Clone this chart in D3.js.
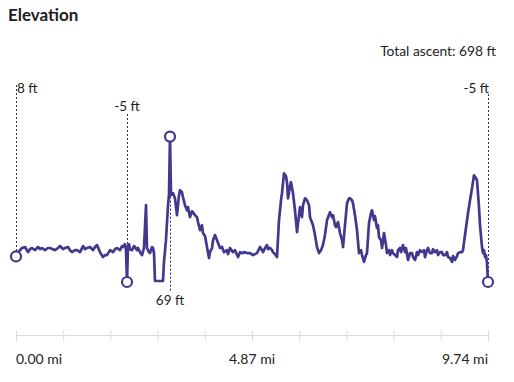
<!DOCTYPE html>
<html>
<head>
<meta charset="utf-8">
<script src="https://cdn.jsdelivr.net/npm/d3@7/dist/d3.min.js"></script>
<style>
  html, body { margin: 0; padding: 0; background: #fff; }
  svg { display: block; font-family: Lato, "Open Sans", sans-serif; }
</style>
</head>
<body>
<svg id="chart" width="514" height="382"></svg>
<script>
// ---- data (distance in miles, elevation in feet) ----
const distance = [
  0.000,0.041,0.083,0.124,0.186,0.248,0.289,0.330,0.392,0.454,0.495,0.537,0.598,0.660,0.702,0.764,0.805,0.867,0.908,0.970,
  1.011,1.073,1.114,1.156,1.218,1.259,1.321,1.383,1.424,1.465,1.527,1.589,1.630,1.672,1.733,1.795,1.837,1.878,1.940,2.002,
  2.043,2.084,2.146,2.187,2.208,2.249,2.270,2.291,2.311,2.332,2.352,2.394,2.435,2.456,2.497,2.518,2.559,2.600,2.641,2.683,
  2.703,2.744,2.765,2.806,2.827,2.848,2.868,2.951,3.033,3.054,3.095,3.137,3.157,3.178,3.199,3.240,3.281,3.322,3.364,3.384,
  3.425,3.446,3.487,3.529,3.549,3.591,3.632,3.653,3.694,3.735,3.756,3.797,3.838,3.859,3.900,3.941,3.983,4.003,4.045,4.066,
  4.107,4.148,4.169,4.210,4.251,4.293,4.354,4.375,4.416,4.478,4.519,4.581,4.622,4.664,4.726,4.767,4.829,4.891,4.932,4.973,
  5.035,5.077,5.097,5.139,5.180,5.201,5.242,5.283,5.303,5.345,5.386,5.427,5.469,5.489,5.530,5.572,5.592,5.613,5.654,5.675,
  5.716,5.757,5.799,5.840,5.861,5.902,5.923,5.964,6.005,6.047,6.067,6.129,6.170,6.211,6.253,6.294,6.335,6.376,6.418,6.480,
  6.521,6.542,6.583,6.604,6.645,6.686,6.728,6.748,6.789,6.831,6.872,6.892,6.934,6.954,6.995,7.037,7.078,7.119,7.140,7.181,
  7.222,7.243,7.284,7.325,7.346,7.367,7.388,7.408,7.450,7.470,7.491,7.532,7.553,7.594,7.635,7.656,7.697,7.718,7.759,7.780,
  7.821,7.862,7.883,7.924,7.945,7.986,8.027,8.048,8.089,8.131,8.172,8.192,8.234,8.275,8.296,8.337,8.378,8.420,8.440,8.481,
  8.502,8.543,8.585,8.605,8.647,8.688,8.708,8.750,8.791,8.812,8.853,8.894,8.915,8.956,8.997,9.018,9.059,9.101,9.121,9.163,
  9.204,9.224,9.265,9.327,9.369,9.410,9.451,9.492,9.513,9.554,9.575,9.616,9.637,9.657,9.678,9.699,9.719,9.740
];
const elevation = [
  8.0,10.2,11.2,12.3,12.8,10.2,11.7,12.3,11.2,12.8,11.7,12.3,11.2,12.3,12.3,11.7,11.2,12.3,13.3,11.7,
  12.3,12.8,11.2,10.2,11.2,11.2,10.2,13.3,11.7,12.3,12.8,11.2,12.8,13.8,10.2,7.7,8.7,8.7,11.2,10.2,
  11.7,12.3,11.2,13.3,12.8,14.3,11.2,-5.0,13.3,14.3,11.7,11.2,13.3,12.8,11.2,12.3,10.2,8.7,12.3,34.1,
  12.3,10.2,9.7,12.8,12.3,9.7,-4.5,-4.5,-4.5,5.2,16.3,34.1,39.2,69.0,39.2,40.2,37.6,29.0,39.2,41.7,
  40.7,38.1,34.1,31.5,33.1,28.0,31.0,30.5,29.0,28.0,25.5,21.4,23.9,19.9,18.4,12.8,7.2,10.2,12.3,16.3,
  18.9,16.3,14.8,12.3,12.8,10.2,11.2,9.2,12.3,10.2,11.2,7.7,10.2,9.7,10.2,9.7,9.7,8.7,9.2,9.7,
  12.8,11.2,10.2,12.3,13.8,11.7,12.3,11.2,10.2,9.2,7.7,26.5,36.6,40.2,50.3,48.8,45.8,37.6,43.8,45.8,
  40.2,31.5,20.4,29.0,33.1,28.0,34.1,37.6,36.6,34.1,28.0,23.9,18.9,12.8,9.7,11.2,13.8,18.9,26.5,30.5,
  28.0,29.0,23.9,22.9,25.5,19.9,16.3,12.8,23.9,35.1,37.6,37.6,36.6,35.1,29.0,21.4,9.7,11.2,8.7,5.2,
  8.7,9.7,24.9,30.0,31.5,29.0,26.5,28.5,22.4,23.9,17.8,16.3,12.3,19.9,13.8,9.7,11.2,8.7,11.2,9.7,
  8.7,7.7,11.2,12.3,10.2,13.8,10.2,12.3,6.2,9.7,9.7,7.7,6.2,10.2,8.7,11.2,10.2,11.2,7.7,11.2,
  12.3,9.7,9.7,11.7,10.2,11.2,8.7,10.2,10.2,8.7,8.7,10.2,7.7,7.2,5.2,8.2,6.2,8.2,9.7,10.2,
  10.2,11.2,18.9,30.0,36.6,42.7,49.3,47.8,46.8,33.1,23.9,12.8,9.7,11.2,7.7,8.7,4.6,-5.0
];
const title = "Elevation";
const ascentLabel = "Total ascent: 698 ft";
const axisTickValues = [0, 0.974, 1.948, 2.922, 3.896, 4.87, 5.844, 6.818, 7.792, 8.766, 9.74];
const axisLabelValues = [0, 4.87, 9.74];
const axisLabels = ["0.00 mi", "4.87 mi", "9.74 mi"];
// highlighted points: start, minimum, maximum, end
const markerDistance = [0.000, 2.291, 3.178, 9.740];
const markerElevation = [8, -5, 69, -5];
const markerLabels = ["8 ft", "-5 ft", "69 ft", "-5 ft"];

// ---- drawing ----
const color = "#41398e";
const svg = d3.select("#chart");
const x = d3.scaleLinear().domain([0, 9.74]).range([16, 488]);
const y = d3.scaleLinear().domain([-5, 69]).range([282, 136.6]);

svg.append("text").attr("x", 8).attr("y", 21)
  .attr("font-size", 17).attr("font-weight", 700).attr("fill", "#1d1d1f")
  .text(title);
svg.append("text").attr("x", 496).attr("y", 56).attr("text-anchor", "end")
  .attr("font-size", 13.8).attr("fill", "#222").text(ascentLabel);

// marker guide lines + labels
const markerCfg = [
  {top: 85, bottom: null, ly: 93, anchor: "start", dx: 1},
  {top: 114, bottom: null, ly: 111, anchor: "middle", dx: 0},
  {top: null, bottom: 292, ly: 305, anchor: "middle", dx: 0},
  {top: 94, bottom: null, ly: 93, anchor: "end", dx: 1}
];
const markers = markerDistance.map((d, i) => ({d, e: markerElevation[i], label: markerLabels[i], cfg: markerCfg[i]}));

svg.append("g").selectAll("line").data(markers).join("line")
  .attr("x1", m => Math.round(x(m.d)) + 0.5).attr("x2", m => Math.round(x(m.d)) + 0.5)
  .attr("y1", m => m.cfg.top !== null ? m.cfg.top : y(m.e))
  .attr("y2", m => m.cfg.bottom !== null ? m.cfg.bottom : y(m.e))
  .attr("stroke", "#2e2870").attr("stroke-width", 1).attr("stroke-dasharray", "2,2");

svg.append("g").selectAll("text").data(markers).join("text")
  .attr("x", m => x(m.d) + m.cfg.dx).attr("y", m => m.cfg.ly)
  .attr("text-anchor", m => m.cfg.anchor)
  .attr("font-size", 13.5).attr("fill", "#222").text(m => m.label);

// elevation line
const pts = distance.map((d, i) => [d, elevation[i]]);
svg.append("path").datum(pts)
  .attr("fill", "none").attr("stroke", color).attr("stroke-width", 2.7)
  .attr("stroke-linejoin", "round").attr("stroke-linecap", "round")
  .attr("d", d3.line().x(p => x(p[0])).y(p => y(p[1])));

svg.append("g").selectAll("circle").data(markers).join("circle")
  .attr("cx", m => x(m.d)).attr("cy", m => y(m.e)).attr("r", 5)
  .attr("fill", "#fff").attr("stroke", color).attr("stroke-width", 2.2);

// x axis
const axisG = svg.append("g").attr("transform", "translate(0,335.5)");
axisG.call(d3.axisBottom(x).tickValues(axisTickValues).tickSize(6).tickFormat(""));
axisG.select(".domain").attr("stroke", "#dcdcdc").attr("d", `M${x(0)},0H${x(9.74)}`);
axisG.selectAll(".tick line").attr("stroke", "#dcdcdc").attr("y1", -5).attr("y2", 6);

svg.append("g").selectAll("text").data(axisLabelValues).join("text")
  .attr("x", v => x(v)).attr("y", 364)
  .attr("text-anchor", (v, i) => i === 0 ? "start" : (i === axisLabelValues.length - 1 ? "end" : "middle"))
  .attr("font-size", 14).attr("fill", "#222")
  .text((v, i) => axisLabels[i]);
</script>
</body>
</html>
